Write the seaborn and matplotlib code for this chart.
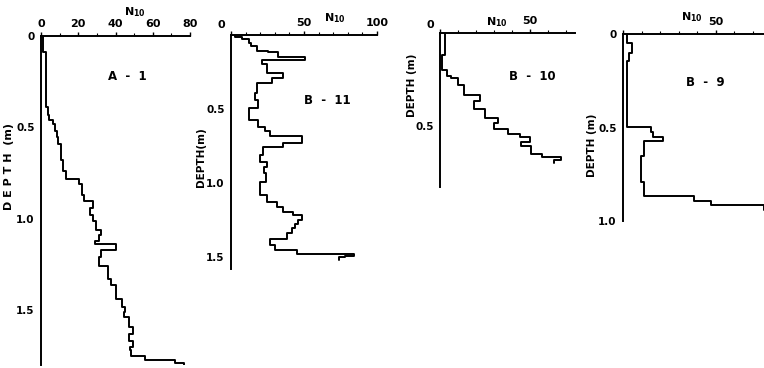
import numpy as np
import pandas as pd
import matplotlib
matplotlib.use('Agg')
import matplotlib.pyplot as plt
import seaborn as sns
from matplotlib.ticker import MultipleLocator

# ---------------- data (depth layer boundaries in m, N10 per layer) ----------------
a1_bounds = [0, 0.09, 0.39, 0.43, 0.46, 0.48, 0.52, 0.55, 0.59, 0.68, 0.74, 0.78, 0.81,
             0.87, 0.90, 0.94, 0.98, 1.01, 1.06, 1.09, 1.12, 1.14, 1.17, 1.21, 1.26, 1.33,
             1.36, 1.44, 1.48, 1.51, 1.54, 1.59, 1.63, 1.67, 1.70, 1.72, 1.75, 1.775, 1.79, 1.80]
a1_n = [1, 2.7, 3.6, 4.5, 6.6, 7.5, 8.4, 9.3, 11, 12, 13.4, 20.5, 22,
        23, 28, 26.5, 28, 29.5, 32, 31, 29, 40, 32, 31, 36, 37.5,
        40, 43.5, 45, 44.5, 47, 49.5, 47.5, 49.5, 48, 48.5, 56, 72, 77]

b11_bounds = [0, 0.016, 0.03, 0.054, 0.077, 0.106, 0.115, 0.15, 0.169, 0.196, 0.257, 0.29,
              0.324, 0.39, 0.44, 0.49, 0.575, 0.62, 0.65, 0.685, 0.727, 0.755, 0.811, 0.856,
              0.89, 0.935, 0.99, 1.081, 1.126, 1.16, 1.194, 1.216, 1.25, 1.273, 1.30, 1.34,
              1.378, 1.419, 1.453, 1.48, 1.489, 1.502, 1.516]
b11_n = [2.7, 7.3, 12.3, 14, 17.6, 25, 32, 50.7, 21.5, 24.4, 35.8, 27.9,
         17.6, 16.4, 18.7, 12.3, 18.7, 23, 26.7, 48.6, 35.8, 22, 19.9, 24.4,
         22.8, 23.7, 19.9, 24.4, 31.3, 35.8, 42.7, 48.8, 46, 43.8, 41.6, 38.1,
         26.7, 30.1, 45, 84.5, 78, 74]

b10_bounds = [0, 0.12, 0.20, 0.233, 0.242, 0.278, 0.332, 0.364, 0.412, 0.457, 0.484, 0.52,
              0.547, 0.561, 0.586, 0.61, 0.65, 0.668, 0.686, 0.70]
b10_n = [3, 1.3, 3.7, 6.1, 9.8, 13.5, 22.2, 19, 25, 32.4, 30.2, 37.6,
         44.4, 50, 45, 50.6, 56.5, 67.2, 63.5]

b9_bounds = [0, 0.05, 0.10, 0.146, 0.50, 0.524, 0.55, 0.574, 0.654, 0.79, 0.868, 0.895,
             0.916, 0.94]
b9_n = [2.3, 4.7, 3.4, 2.0, 14.9, 16.3, 21.3, 11.3, 9.5, 11.3, 38.2, 47.7, 76]

# ---------------- figure ----------------
sns.set_style('white')
plt.rcParams['font.family'] = ['DejaVu Sans']
plt.rcParams['mathtext.fontset'] = 'dejavusans'
plt.rcParams['font.weight'] = 'bold'

W, H = 764, 368
fig = plt.figure(figsize=(W / 100, H / 100), dpi=100)


def px_axes(left, right, top, bottom):
    return fig.add_axes([left / W, 1 - bottom / H, (right - left) / W, (bottom - top) / H])


def ftext(x, y, s, **kw):
    kw.setdefault('fontsize', 8)
    kw.setdefault('color', 'black')
    fig.text(x / W, 1 - y / H, s, ha='center', va='center', **kw)


def draw(ax, bounds, n, xmax, ymax, xticks, xlabels, yticks, ylabels):
    df = pd.DataFrame({'N': list(n) + [n[-1]], 'depth': bounds})
    sns.lineplot(data=df, x='N', y='depth', sort=False, estimator=None,
                 drawstyle='steps-pre', color='black', lw=1.4, ax=ax, legend=False)
    ax.set_xlim(0, xmax)
    ax.set_ylim(ymax, 0)
    ax.xaxis.tick_top()
    ax.set_xticks(xticks, xlabels)
    ax.set_yticks(yticks, ylabels)
    ax.xaxis.set_minor_locator(MultipleLocator(10))
    ax.yaxis.set_minor_locator(MultipleLocator(0.1))
    for s in ['right', 'bottom']:
        ax.spines[s].set_visible(False)
    for s in ['left', 'top']:
        ax.spines[s].set_linewidth(1.4)
        ax.spines[s].set_color('black')
    ax.tick_params(which='major', direction='out', length=3, width=1, pad=2,
                   labelsize=8, colors='black')
    ax.tick_params(axis='y', which='major', labelsize=7.5, pad=1.5)
    ax.tick_params(which='minor', direction='out', length=2, width=0.8, colors='black')
    ax.set_xlabel('')
    ax.set_ylabel('')
    ax.set_facecolor('none')


ax1 = px_axes(41, 190, 36, 365)
draw(ax1, a1_bounds, a1_n, 80, 1.8, [0, 20, 40, 60, 80], ['0', '20', '40', '60', '80'],
     [0, 0.5, 1.0, 1.5], ['0', '0.5', '1.0', '1.5'])

ax2 = px_axes(231, 377, 35, 269)
draw(ax2, b11_bounds, b11_n, 100, 1.58, [0, 50, 100], ['', '50', '100'],
     [0, 0.5, 1.0, 1.5], ['', '0.5', '1.0', '1.5'])

ax3 = px_axes(440, 575, 33, 187)
draw(ax3, b10_bounds, b10_n, 75, 0.83, [0, 50], ['', '50'],
     [0, 0.5], ['', '0.5'])

ax4 = px_axes(623, 764, 34, 221)
draw(ax4, b9_bounds, b9_n, 76, 1.0, [0, 50], ['', '50'],
     [0, 0.5, 1.0], ['0', '0.5', '1.0'])

# axis titles
n10 = r'N$_{\mathbf{10}}$'
ftext(135, 12, n10)
ftext(335, 18, n10)
ftext(497, 22, n10)
ftext(692, 17, n10)

ftext(9, 167, 'D E P T H  (m)', rotation=90, fontsize=8)
ftext(201, 157, 'DEPTH(m)', rotation=90, fontsize=7.5)
ftext(412, 85, 'DEPTH (m)', rotation=90, fontsize=7.5)
ftext(592, 145, 'DEPTH (m)', rotation=90, fontsize=7.5)

# zero labels of the B panels
ftext(221, 25, '0')
ftext(430, 25, '0')

# profile names
ftext(127, 77, 'A  -  1', fontsize=8.5)
ftext(327, 100, 'B  -  11', fontsize=8.5)
ftext(532, 77, 'B  -  10', fontsize=8.5)
ftext(705, 83, 'B  -  9', fontsize=8.5)

fig.savefig('out.png', dpi=100)
